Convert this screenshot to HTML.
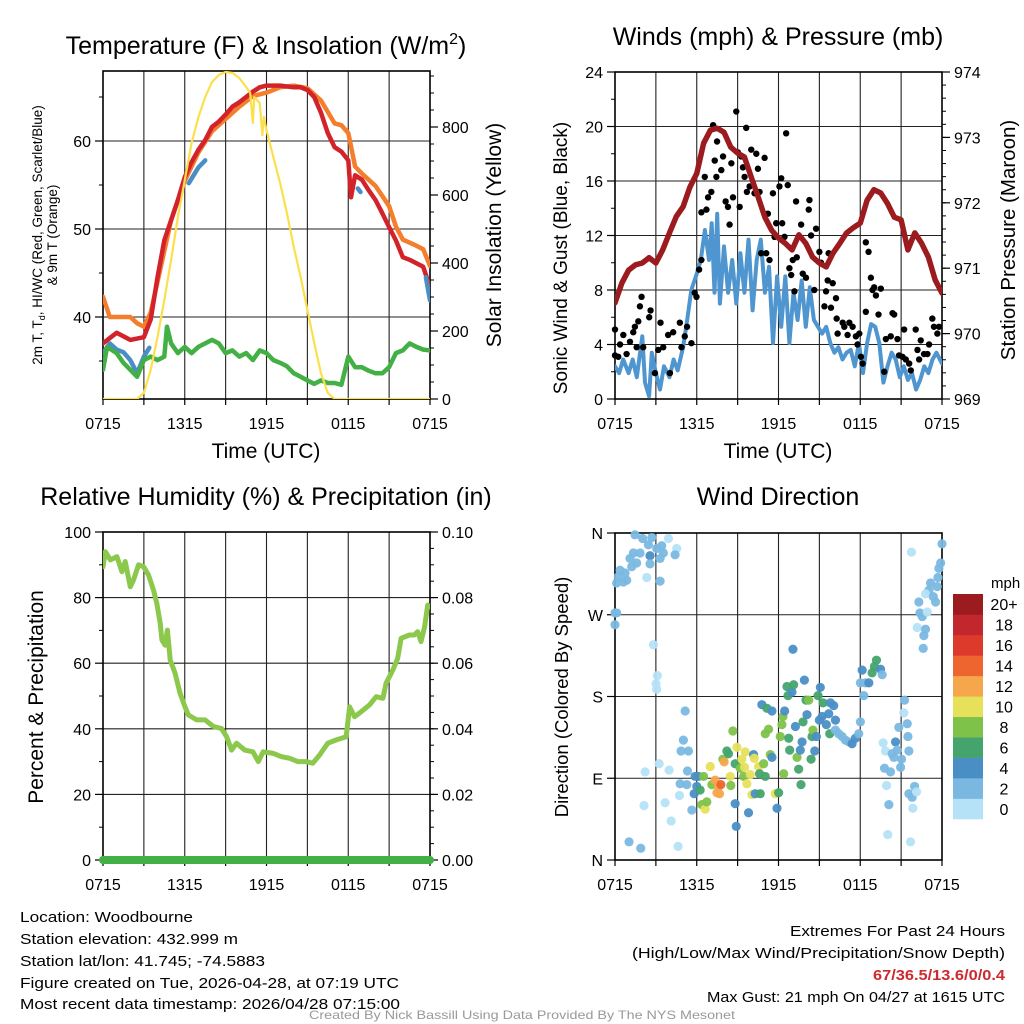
<!DOCTYPE html>
<html><head><meta charset="utf-8"><title>Woodbourne Meteogram</title>
<style>
html,body{margin:0;padding:0;background:#fff;}
svg{display:block;font-family:"Liberation Sans",Arial,sans-serif;}
</style></head>
<body>
<svg id="chart" width="1024" height="1024" viewBox="0 0 1024 1024" xmlns="http://www.w3.org/2000/svg">
<rect x="0" y="0" width="1024" height="1024" fill="#fff"/>
<!-- titles -->
<text x="266" y="54" font-size="25" text-anchor="middle">Temperature (F) &amp; Insolation (W/m<tspan font-size="16" dy="-10">2</tspan><tspan dy="10">)</tspan></text>
<text x="778" y="45" font-size="25" text-anchor="middle">Winds (mph) &amp; Pressure (mb)</text>
<text x="266" y="505" font-size="25" text-anchor="middle">Relative Humidity (%) &amp; Precipitation (in)</text>
<text x="778" y="505" font-size="25" text-anchor="middle">Wind Direction</text>
<!-- axis titles -->
<text x="266" y="458" font-size="21" text-anchor="middle">Time (UTC)</text>
<text x="778" y="458" font-size="21" text-anchor="middle">Time (UTC)</text>
<g transform="translate(42,235) rotate(-90)">
<text x="0" y="0" font-size="13.5" text-anchor="middle">2m T, T<tspan font-size="9" dy="3">d</tspan><tspan dy="-3">, HI/WC (Red, Green, Scarlet/Blue)</tspan></text>
<text x="0" y="15" font-size="13.5" text-anchor="middle">&amp; 9m T (Orange)</text>
</g>
<text transform="translate(501,235) rotate(-90)" font-size="21" text-anchor="middle">Solar Insolation (Yellow)</text>
<text transform="translate(567,258) rotate(-90)" font-size="19" text-anchor="middle">Sonic Wind &amp; Gust (Blue, Black)</text>
<text transform="translate(1015,240) rotate(-90)" font-size="20.5" text-anchor="middle">Station Pressure (Maroon)</text>
<text transform="translate(43,697) rotate(-90)" font-size="21" text-anchor="middle">Percent &amp; Precipitation</text>
<text transform="translate(568,697) rotate(-90)" font-size="18.5" text-anchor="middle">Direction (Colored By Speed)</text>
<!-- footer -->
<g font-size="15">
<text x="20" y="922" textLength="173" lengthAdjust="spacingAndGlyphs">Location: Woodbourne</text>
<text x="20" y="944" textLength="218" lengthAdjust="spacingAndGlyphs">Station elevation: 432.999 m</text>
<text x="20" y="966" textLength="245" lengthAdjust="spacingAndGlyphs">Station lat/lon: 41.745; -74.5883</text>
<text x="20" y="988" textLength="379" lengthAdjust="spacingAndGlyphs">Figure created on Tue, 2026-04-28, at 07:19 UTC</text>
<text x="20" y="1009" textLength="380" lengthAdjust="spacingAndGlyphs">Most recent data timestamp: 2026/04/28 07:15:00</text>
</g>
<g font-size="15">
<text x="790" y="936" textLength="215" lengthAdjust="spacingAndGlyphs">Extremes For Past 24 Hours</text>
<text x="632" y="958" textLength="373" lengthAdjust="spacingAndGlyphs">(High/Low/Max Wind/Precipitation/Snow Depth)</text>
<text x="873" y="980" textLength="132" lengthAdjust="spacingAndGlyphs" font-weight="bold" fill="#cc2a2f">67/36.5/13.6/0/0.4</text>
<text x="707" y="1002" textLength="298" lengthAdjust="spacingAndGlyphs">Max Gust: 21 mph On 04/27 at 1615 UTC</text>
</g>
<text x="309" y="1019" font-size="12" fill="#999" textLength="426" lengthAdjust="spacingAndGlyphs">Created By Nick Bassill Using Data Provided By The NYS Mesonet</text>
<!-- colorbar -->
<text x="991" y="588" font-size="15">mph</text>
<g id="cbar"></g>
<g id="plots"></g>
</svg>
<script>
// ---------- data ----------
const xTickLabels = ['0715','1315','1915','0115','0715'];
const tempTicks = [40,50,60];
const insolTicks = [0,200,400,600,800];
const windTicks = [0,4,8,12,16,20,24];
const presTicks = [969,970,971,972,973,974];
const rhTicks = [0,20,40,60,80,100];
const precipTicks = ['0.00','0.02','0.04','0.06','0.08','0.10'];
const dirTickLabels = ['N','E','S','W','N'];
const speedBinLabels = ['0','2','4','6','8','10','12','14','16','18','20+'];
const speedColors = ['#b5e2f7','#7ab8e2','#4a8ec6','#45a46e','#7ec24a','#e6e05a','#f6a64b','#ef6530','#dd3a2c','#c1272d','#9b1b1e'];

const tempHours = [0,1,2,3,3.5,4,4.5,5,5.5,6,6.5,7,7.5,8,8.5,9,9.5,10,10.5,11,11.5,12,13,14,14.5,15,15.5,16,16.5,17,17.5,18,18.2,18.5,19,19.5,20,20.5,21,21.5,22,22.5,23,23.5,24];
const tempValues = [37.0,38.2,37.4,37.7,39.7,44.5,48.7,51,53.3,55.9,57.6,59,60.1,61.6,62.2,63,63.9,64.4,65,65.6,66.1,66.3,66.3,66.1,66.1,65.8,65,63.2,60.9,59.3,58.8,57.8,53.6,56.1,55.6,54.4,53.3,51.8,50.2,48.7,46.8,46.5,46.1,45.7,43.4];
const t9Hours = [0,0.5,1,2,2.5,3,3.5,5,6,7,8,9,10,11,12,13,14,15,16,17,17.5,18,18.5,19,20,21,21.5,22,23,23.5,24];
const t9Values = [42.3,40,40,40,39.3,38.9,40.5,51,55.5,58.7,61.1,62.5,63.9,65.1,65.5,66.1,66.3,66,64.6,62,61.8,60.9,57.1,56.3,54.9,52.6,50.3,48.8,48.1,47.7,45.8];
const hiwcHours = [0,0.5,1,1.5,2,2.5,3,3.4,null,6.3,7,7.5,null,18.7,18.9,null,23.7,24];
const hiwcValues = [35.9,37,36.3,36,35.1,33.6,35.5,36.5,null,55.2,57,57.8,null,54.6,54.2,null,44.5,41.9];
const dewHours = [0,0.3,1,1.5,2,2.5,3,3.5,4,4.5,4.7,5,5.5,6,6.5,7,7.5,8,8.5,9,9.5,10,10.5,11,11.5,12,12.5,13,13.5,14,14.5,15,15.5,16,16.5,17,17.5,18,18.5,19,19.5,20,20.5,21,21.5,22,22.5,23,23.5,24];
const dewValues = [34,36.6,35.9,34.8,34,33.2,35.1,35.5,35.1,35.5,38.9,37,35.9,36.6,35.9,36.6,37,37.4,37,35.9,36.2,35.5,35.9,35.1,36.2,35.9,35.1,34.8,34.4,33.6,33.2,32.8,32.4,32.8,32.5,32.5,32.3,35.5,34.3,34.3,33.9,33.6,33.6,34.3,35.9,36.2,37,36.6,36.3,36.2];
const solarHours = [0,2.5,3,3.5,4,4.5,5,5.5,6,6.5,7,7.5,8,8.5,9,9.5,10,10.5,10.8,11,11.1,11.5,11.7,11.8,12,12.5,13,13.5,14,14.5,15,15.5,16,16.5,17,24];
const solarValues = [0,0,18,85,182,291,409,535,644,753,829,888,932,953,962,959,944,918,900,812,888,871,776,830,791,712,635,547,447,359,262,165,76,18,0,0];

const presHours = [0,0.5,1,1.5,2,2.5,3,3.5,4,4.5,5,5.5,6,6.5,7,7.5,8,8.5,9,9.5,10,10.5,11,11.5,12,12.5,13,13.5,14,14.5,15,15.5,16,16.5,17,17.5,18,18.5,19,19.5,20,20.5,21,21.5,22,22.5,23,23.5,24];
const presValues = [970.47,970.77,970.97,971.05,971.08,971.16,971.08,971.28,971.54,971.79,971.94,972.24,972.45,972.91,973.11,973.14,973.08,972.85,972.76,972.70,972.39,972.09,971.78,971.58,971.46,971.38,971.28,971.51,971.38,971.17,971.08,971.02,971.23,971.38,971.54,971.62,971.69,972.04,972.20,972.15,971.99,971.78,971.74,971.28,971.54,971.38,971.17,970.82,970.62];
const windHours = [0,0.3,0.6,1,1.3,1.6,2,2.2,2.5,2.7,3,3.3,3.6,4,4.3,4.6,5,5.3,5.6,6,6.3,6.6,6.9,7.1,7.3,7.5,7.7,8,8.3,8.6,8.9,9.2,9.5,9.8,10.1,10.4,10.7,11,11.3,11.6,11.9,12.2,12.5,12.8,13.1,13.4,13.7,14,14.3,14.6,14.9,15.2,15.5,15.8,16.1,16.4,16.7,17,17.3,17.6,17.9,18.2,18.5,18.8,19.1,19.4,19.7,20,20.3,20.6,20.9,21.2,21.5,21.8,22.1,22.4,22.7,23,23.3,23.6,24];
const windValues = [2.4,1.9,2.9,1.9,2.9,1.6,4.6,1.2,0.2,3.4,1.9,0.7,2.4,1.6,2.9,2.1,3.8,5.8,8.0,9.2,10.2,12.4,10.2,12.9,7.8,13.6,7.0,11.2,7.8,10.2,7.0,10.7,7.8,11.7,6.5,10.2,11.7,7.8,9.7,4.1,9.0,5.3,9.0,4.1,7.8,5.8,8.7,5.3,8.2,5.8,5.3,4.8,5.3,4.1,3.4,3.8,2.9,3.4,3.6,2.4,4.1,1.9,4.1,5.5,5.3,4.1,1.2,2.4,3.4,2.9,1.6,2.4,1.4,1.9,0.7,1.4,2.4,1.9,2.9,3.4,2.6];
const gustHours = [0,0,0.37,0.61,0.24,0.85,1.1,1.34,1.46,1.59,1.71,1.83,1.95,2.07,2.51,2.61,2.93,3.17,3.34,3.54,3.9,4.03,4.27,4.76,4.88,5.12,5.29,5.61,5.85,5.98,6.17,6.34,6.34,6.71,6.59,6.83,7.07,7.2,7.32,7.49,7.44,7.8,7.93,8.12,8.29,8.41,8.54,8.66,8.9,9.02,9.15,9.27,9.39,9.51,9.63,9.68,9.88,10.0,10.24,10.37,10.49,10.61,10.73,10.98,11.1,11.22,11.34,11.59,11.71,11.83,12.07,12.2,12.27,12.44,12.56,12.68,12.8,12.93,13.05,13.17,13.29,13.34,13.66,13.78,14.02,14.22,14.27,14.39,14.63,14.76,15.0,15.12,15.37,15.49,15.61,15.68,15.85,15.98,16.22,16.27,16.34,16.71,16.83,17.07,17.2,17.44,17.68,17.8,17.93,18.05,18.17,18.41,18.41,18.61,18.78,18.9,19.02,19.15,19.34,19.51,19.76,19.88,20.24,20.37,20.49,20.73,20.85,21.1,21.22,21.34,21.59,21.71,22.07,22.2,22.32,22.44,22.68,22.93,23.05,23.29,23.41,23.66,23.78];
const gustMph = [5.1,3.2,4.0,4.7,3.1,3.3,4.2,4.9,5.3,3.8,5.7,6.8,7.5,3.8,6.0,6.5,1.9,3.6,5.6,3.8,4.7,1.9,4.9,5.6,3.8,4.6,5.3,4.1,7.8,7.5,9.5,10.2,13.7,13.9,16.3,14.8,15.2,20.1,17.5,18.9,16.3,16.8,17.8,14.5,14.1,12.8,17.3,14.8,21.1,18.1,14.1,17.8,17.0,16.3,19.9,15.2,15.6,18.3,15.1,18.0,16.9,15.2,10.7,17.7,10.7,13.6,10.2,15.1,11.9,12.9,15.6,16.2,12.9,11.9,19.5,15.7,9.6,9.1,10.2,7.9,14.5,10.4,12.8,9.2,8.9,13.9,14.6,12.0,8.0,12.5,10.8,10.0,6.8,7.9,8.7,10.7,6.7,8.5,7.4,5.9,4.8,5.6,5.3,4.7,5.6,5.3,4.6,4.0,4.8,3.1,2.6,6.4,11.5,10.8,8.9,8.0,8.2,7.6,6.2,8.1,2.0,4.4,4.6,6.3,6.2,4.4,3.2,3.1,5.1,2.9,2.6,2.1,5.1,3.6,2.9,4.3,3.3,3.3,4.0,5.9,5.3,4.8,5.3];

const rhHours = [0,0.17,0.54,1.02,1.39,1.63,2.0,2.24,2.61,2.98,3.34,3.71,3.95,4.2,4.32,4.56,4.73,4.93,5.29,5.66,6.02,6.27,6.88,7.49,8.1,8.7,9.07,9.44,9.8,10.4,11.0,11.4,11.76,12.5,13.1,13.7,14.3,14.9,15.4,15.9,16.5,17.1,17.85,18.1,18.46,18.95,19.56,20.05,20.54,20.78,21.27,21.63,21.88,22.49,22.85,23.1,23.34,23.6,23.83,24];
const rhValues = [89.4,94,91.5,92.5,87.9,91,83.3,85.4,90,89.4,86.9,82.3,78.3,72.2,67.1,65.5,70.1,61,56.9,50.8,46.7,44.2,42.7,42.7,40.7,40.1,37.6,33.5,35.6,33.5,33,30,33,32.5,31.5,31,30,30,29.5,32,35.6,36.6,37.6,46.7,43.7,45.2,47.3,49.8,49.3,53.9,57.9,61.5,67.6,68.6,68.6,69.6,66.6,71.1,77.7,77.2];
const precipHours = [0,24];
const precipValues = [0,0];

const dirHours = [1.47,2.03,2.70,3.92,2.45,3.43,4.53,3.06,1.35,1.84,1.10,2.57,3.55,4.41,3.31,1.59,2.57,1.23,0.37,0.74,0.25,0.86,0.61,0.12,2.33,3.31,0,0.12,0,2.82,3.11,3.01,3.06,1.03,1.89,2.13,2.21,3.24,3.97,3.68,4.12,4.73,4.63,5.15,5.02,4.85,5.39,5.32,4.78,5.27,5.64,5.88,6.13,5.81,6.0,6.25,6.37,6.62,6.74,6.5,6.99,7.11,7.35,7.6,7.77,7.48,7.67,7.92,8.01,8.21,8.33,8.46,8.5,8.65,8.82,8.82,8.9,8.95,9.19,9.31,9.44,9.56,9.51,9.68,9.8,9.93,10.05,10.17,10.22,10.29,10.54,10.61,10.66,10.78,10.91,11.03,11.15,11.03,11.27,11.4,11.52,11.52,11.76,11.89,12.01,12.13,12.25,12.33,12.38,12.45,12.62,12.7,12.75,12.82,12.99,13.06,13.11,13.24,13.36,13.48,13.6,13.65,13.73,13.8,13.9,14.02,14.09,14.22,14.39,14.46,14.53,14.66,14.78,14.9,15.0,15.07,15.2,15.27,15.51,15.69,15.76,15.81,16.05,16.18,16.18,16.42,16.67,16.91,17.16,17.4,17.65,17.89,18.01,18.01,18.14,18.38,18.63,18.87,19.04,19.19,19.49,19.61,18.26,19.68,19.85,19.93,20.1,20.02,19.78,20.22,20.34,20.47,20.59,20.71,20.83,20.96,21.03,21.25,21.2,21.45,21.5,21.57,21.57,21.81,21.86,21.99,22.13,21.69,21.76,22.18,22.38,22.55,22.62,22.67,22.79,22.3,22.92,23.04,22.79,23.16,23.36,23.53,23.65,23.7,23.77,23.9,24.0];
const dirDegrees = [358,354,355,354,347,346,343,343,338,338,332,335,338,336,332,327,326,323,319,316,312,308,306,305,311,307,272,272,259,237,203,194,188,20,13,60,97,106,99,63,43,71,15,164,132,120,120,98,84,83,55,92,92,73,81,77,61,56,64,92,103,83,88,81,83,74,73,111,108,120,117,92,82,142,106,62,37,124,101,111,92,119,102,84,52,94,72,116,112,73,103,95,73,171,106,92,167,139,144,116,113,164,73,57,74,136,149,158,95,164,191,181,134,121,185,232,193,147,113,100,121,83,130,152,198,176,160,176,111,136,143,120,136,181,154,190,158,173,149,161,139,173,170,154,143,139,136,132,130,128,134,139,152,195,209,195,195,206,213,220,210,204,181,129,120,82,61,28,101,97,117,113,130,121,146,102,111,176,162,150,136,120,73,69,57,81,75,20,339,256,272,268,233,247,254,284,273,297,293,305,290,284,301,311,321,327,348];
const dirSpeeds = [2,2,2,0.5,2,2,0.5,2,2,2,2,4,2,2,2,2,2,2,2,2,2,2,2,2,0.5,2,2,2,2,0.5,0.5,0.5,0.5,2,2,0.5,0.5,0.5,0.5,0.5,0.5,0.5,0.5,2,2,2,2,2,2,2,2,4,4,4,4,6,8,10,8,8,10,8,12,12,14,12,12,8,12,6,6,10,8,8,6,4,4,10,8,10,8,10,10,10,4,10,10,4,10,4,10,6,6,4,8,6,6,8,8,8,4,4,10,4,6,8,8,8,8,4,6,6,6,6,4,4,6,4,8,6,4,6,4,6,4,6,4,8,6,6,8,4,4,6,4,4,4,6,4,4,6,4,4,4,2,2,2,2,2,4,4,2,2,2,4,2,4,6,6,6,4,2,2,0.5,0.5,0.5,2,0.5,2,2,2,2,4,2,2,2,2,2,0.5,2,2,2,2,2,0.5,2,0.5,0.5,0.5,0.5,2,2,2,2,2,2,0.5,2,0.5,2,2,2,2,2,2,2,2];

// ---------- helpers ----------
const NS = 'http://www.w3.org/2000/svg';
const plots = document.getElementById('plots');
function mk(tag, parent, attrs) {
  const e = document.createElementNS(NS, tag);
  for (const k in attrs) e.setAttribute(k, attrs[k]);
  parent.appendChild(e);
  return e;
}
function pathFrom(xs, ys, fx, fy) {
  let d = '', pen = false;
  for (let i = 0; i < xs.length; i++) {
    if (xs[i] === null || ys[i] === null) { pen = false; continue; }
    d += (pen ? 'L' : 'M') + fx(xs[i]).toFixed(1) + ',' + fy(ys[i]).toFixed(1);
    pen = true;
  }
  return d;
}

const P = {
  temp: {x0:103, x1:430, y0:71, y1:399},
  wind: {x0:615, x1:942, y0:72, y1:399},
  rh:   {x0:103, x1:430, y0:532, y1:860},
  dir:  {x0:615, x1:942, y0:533, y1:860}
};
function xScale(p) { return h => p.x0 + h / 24 * (p.x1 - p.x0); }
const xT = xScale(P.temp), xW = xScale(P.wind), xR = xScale(P.rh), xD = xScale(P.dir);
const yTemp = t => 317 - (t - 40) * 8.8;
const ySolar = s => 399 - s * 0.34;
const yWind = v => P.wind.y1 - v * (P.wind.y1 - P.wind.y0) / 24;
const yPres = p => P.wind.y1 - (p - 969) * (P.wind.y1 - P.wind.y0) / 5;
const yRH = r => P.rh.y1 - r * (P.rh.y1 - P.rh.y0) / 100;
const yPrecip = v => P.rh.y1 - v * (P.rh.y1 - P.rh.y0) / 0.1;
const yDir = d => P.dir.y1 - d / 360 * (P.dir.y1 - P.dir.y0);

function frame(p, name, hGridYs) {
  const g = mk('g', plots, {});
  
  
  for (let k = 1; k < 8; k++) {
    const x = p.x0 + k * (p.x1 - p.x0) / 8;
    const l = mk('line', g, {x1:x, x2:x, y1:p.y0, y2:p.y1, stroke:'#222', 'stroke-width':1.1});
    
    
  }
  hGridYs.forEach(y => {
    const l = mk('line', g, {x1:p.x0, x2:p.x1, y1:y, y2:y, stroke:'#222', 'stroke-width':1.1});
    
    
  });
  for (let k = 0; k <= 8; k++) {
    const x = p.x0 + k * (p.x1 - p.x0) / 8;
    const t = mk('line', g, {x1:x, x2:x, y1:p.y1, y2:p.y1 + 6, stroke:'#000', 'stroke-width':1.2});
    
    
    if (k % 2 === 0) {
      const lb = mk('text', g, {x:x, y:p.y1 + 30, 'font-size':16, 'text-anchor':'middle'});
      lb.textContent = xTickLabels[k / 2];
      
      
    }
  }
  const r = mk('rect', g, {x:p.x0, y:p.y0, width:p.x1 - p.x0, height:p.y1 - p.y0, fill:'none', stroke:'#000', 'stroke-width':1.6});
  
  
  return g;
}
function yTicks(g, x, side, ys, labels, minorYs, name) {
  const dir = side === 'left' ? -1 : 1;
  ys.forEach((y, i) => {
    const t = mk('line', g, {x1:x, x2:x + dir * 8, y1:y, y2:y, stroke:'#000', 'stroke-width':1.2});
    
    
    const lb = mk('text', g, {x:x + dir * 12, y:y + 6, 'font-size':16, 'text-anchor': side === 'left' ? 'end' : 'start'});
    lb.textContent = labels[i];
    
    
  });
  minorYs.forEach(y => {
    const t = mk('line', g, {x1:x, x2:x + dir * 4, y1:y, y2:y, stroke:'#000', 'stroke-width':1});
    
    
  });
}
function range(a, b, s) { const r = []; for (let v = a; v <= b + 1e-9; v += s) r.push(v); return r; }
function line(parent, xs, ys, fx, fy, color, w, name, clip) {
  const p = mk('path', parent, {d: pathFrom(xs, ys, fx, fy), fill:'none', stroke:color, 'stroke-width':w, 'stroke-linejoin':'round', 'stroke-linecap':'round'});
  if (clip) p.setAttribute('clip-path', clip);
  
  
  return p;
}
const defs = mk('defs', plots, {});
Object.keys(P).forEach(k => {
  const cp = mk('clipPath', defs, {id:'clip-' + k});
  mk('rect', cp, {x:P[k].x0, y:P[k].y0, width:P[k].x1 - P[k].x0, height:P[k].y1 - P[k].y0});
});

// ---------- temperature panel ----------
const gT = frame(P.temp, 'temperature', tempTicks.map(yTemp));
yTicks(gT, P.temp.x0, 'left', tempTicks.map(yTemp), tempTicks, [35,45,55,65].map(yTemp), 'temperature-y');
yTicks(gT, P.temp.x1, 'right', insolTicks.map(ySolar), insolTicks, range(100, 900, 100).concat(range(50,950,100)).map(ySolar), 'insolation-y');
line(gT, t9Hours, t9Values, xT, yTemp, '#f47e2c', 4.5, 'temp-9m-line', 'url(#clip-temp)');
line(gT, tempHours, tempValues, xT, yTemp, '#d3232a', 4.5, 'temp-2m-line', 'url(#clip-temp)');
line(gT, hiwcHours, hiwcValues, xT, yTemp, '#4a8ec6', 4.5, 'heat-index-windchill-line', 'url(#clip-temp)');
line(gT, dewHours, dewValues, xT, yTemp, '#43b045', 4.5, 'dewpoint-line', 'url(#clip-temp)');
line(gT, solarHours, solarValues, xT, ySolar, '#fbe04c', 2.2, 'solar-insolation-line', 'url(#clip-temp)');

// ---------- wind panel ----------
const gW = frame(P.wind, 'winds', windTicks.map(yWind));
yTicks(gW, P.wind.x0, 'left', windTicks.map(yWind), windTicks, range(2, 22, 4).map(yWind), 'wind-y');
yTicks(gW, P.wind.x1, 'right', presTicks.map(yPres), presTicks, range(969.2, 973.8, 0.2).map(yPres), 'pressure-y');
line(gW, windHours, windValues, xW, yWind, '#4f95cf', 4, 'sonic-wind-line', 'url(#clip-wind)');
gustHours.forEach((h, i) => {
  const c = mk('circle', gW, {cx:xW(h), cy:yWind(gustMph[i]), r:3.2, fill:'#000'});
  
  
});
line(gW, presHours, presValues, xW, yPres, '#9b1b1e', 5.5, 'pressure-line', 'url(#clip-wind)');

// ---------- humidity panel ----------
const gR = frame(P.rh, 'humidity', rhTicks.map(yRH));
yTicks(gR, P.rh.x0, 'left', rhTicks.map(yRH), rhTicks, range(10, 90, 20).map(yRH), 'humidity-y');
yTicks(gR, P.rh.x1, 'right', precipTicks.map(v => yPrecip(+v)), precipTicks, range(0.005, 0.095, 0.005).map(yPrecip), 'precip-y');
line(gR, rhHours, rhValues, xR, yRH, '#8cc84b', 5, 'humidity-line', 'url(#clip-rh)');
const pl = mk('path', gR, {d: pathFrom(precipHours, precipValues, xR, yPrecip), fill:'none', stroke:'#43b045', 'stroke-width':8, 'stroke-linecap':'round'});



// ---------- direction panel ----------
const dirVals = [0,90,180,270,360];
const gD = frame(P.dir, 'direction', dirVals.map(yDir));
yTicks(gD, P.dir.x0, 'left', dirVals.map(yDir), dirTickLabels, [], 'direction-y');
dirHours.forEach((h, i) => {
  const idx = Math.min(10, Math.round(dirSpeeds[i] / 2));
  const c = mk('circle', gD, {cx:xD(h), cy:yDir(dirDegrees[i]), r:4.6, fill:speedColors[idx], 'fill-opacity':0.95});
  
  
});

// ---------- colorbar ----------
const cb = document.getElementById('cbar');
const cbTop = 594, cbBot = 819, cbH = (cbBot - cbTop) / speedColors.length;
speedColors.forEach((col, i) => {
  const y = cbBot - (i + 1) * cbH;
  const r = mk('rect', cb, {x:953, y:y, width:30, height:cbH + 0.3, fill:col});
  
  
  const t = mk('text', cb, {x:1004, y:y + cbH / 2 + 6, 'font-size':16, 'text-anchor':'middle'});
  t.textContent = speedBinLabels[i];
  
  
});
</script>
</body></html>
